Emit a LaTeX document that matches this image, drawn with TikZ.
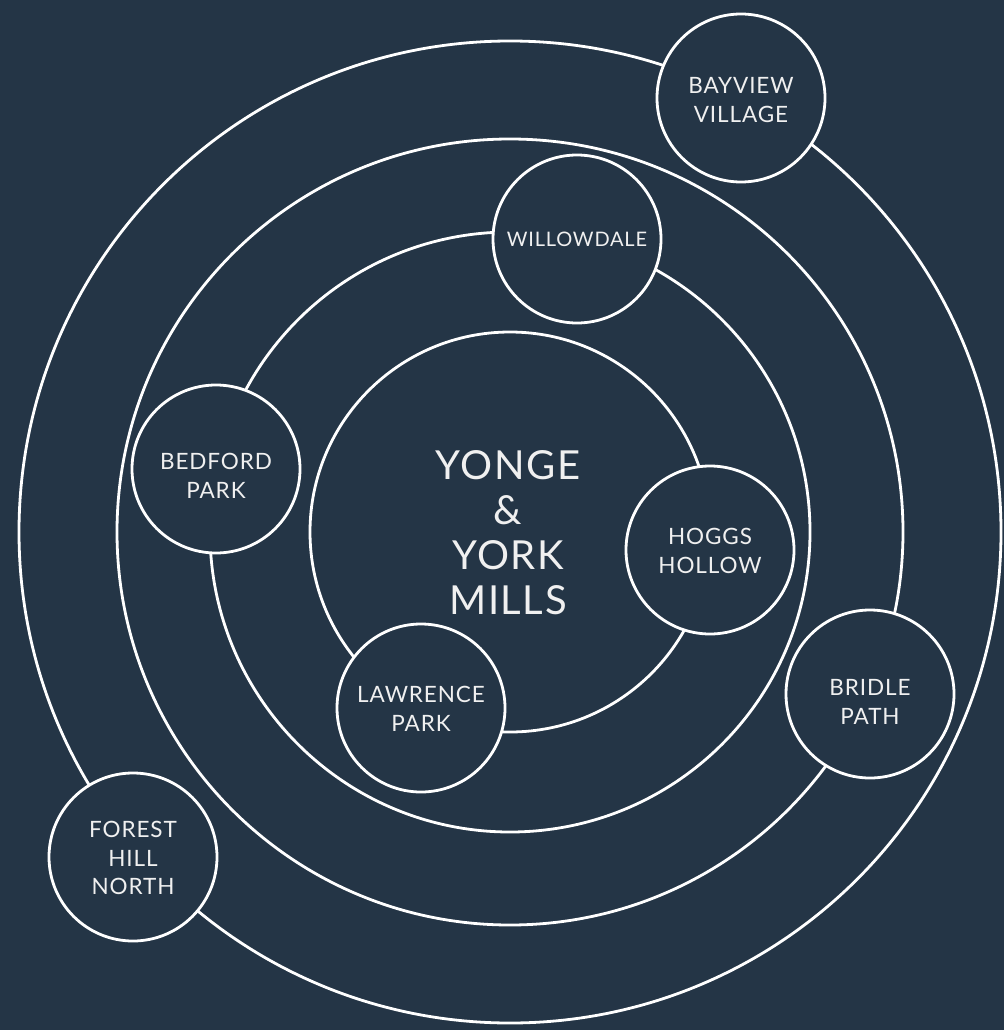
\documentclass[tikz,border=0pt]{standalone}
\usepackage{fontspec}
\setmainfont{Lato}
\newfontfamily\lblfont[LetterSpace=4]{Lato}
\definecolor{bgnavy}{RGB}{36,53,70}
\definecolor{txtwhite}{RGB}{240,240,240}
\begin{document}
\begin{tikzpicture}[x=1pt,y=-1pt,
  ring/.style={draw=white,line width=2.8pt},
  hood/.style={circle,draw=white,line width=2.8pt,fill=bgnavy,minimum size=168pt,inner sep=0pt},
  hoodtext/.style={text=txtwhite,align=center,font=\lblfont\fontsize{22.5}{28.5}\selectfont},
  maintext/.style={text=txtwhite,align=center,font=\lblfont\fontsize{40}{45}\selectfont}]
\fill[bgnavy] (0,0) rectangle (1004,1030);
\useasboundingbox (0,0) rectangle (1004,1030);
\coordinate (c) at (510,532);
\draw[ring] (c) circle[radius=200];
\draw[ring] (c) circle[radius=300];
\draw[ring] (c) circle[radius=393];
\draw[ring] (c) circle[radius=491];
\node[hood] (bayview) at (741,98) {};
\node[hood] (willowdale) at (577,239) {};
\node[hood] (bedford) at (216,469) {};
\node[hood] (hoggs) at (710,550) {};
\node[hood] (bridle) at (870,694) {};
\node[hood] (lawrence) at (421,708) {};
\node[hood] (forest) at (133,857) {};
\node[hoodtext] (tbayview) at (741,100) {BAYVIEW\\VILLAGE};
\node[hoodtext,font=\lblfont\fontsize{20}{24}\selectfont] (twillowdale) at (577,239) {WILLOWDALE};
\node[hoodtext] (tbedford) at (216,476) {BEDFORD\\PARK};
\node[hoodtext] (thoggs) at (710,551) {HOGGS\\HOLLOW};
\node[hoodtext] (tbridle) at (870,702) {BRIDLE\\PATH};
\node[hoodtext] (tlawrence) at (421,709) {LAWRENCE\\PARK};
\node[hoodtext] (tforest) at (133,858) {FOREST\\HILL\\NORTH};
\node[maintext] (center) at (508,533) {YONGE\\\&\\YORK\\MILLS};
\end{tikzpicture}
\end{document}
